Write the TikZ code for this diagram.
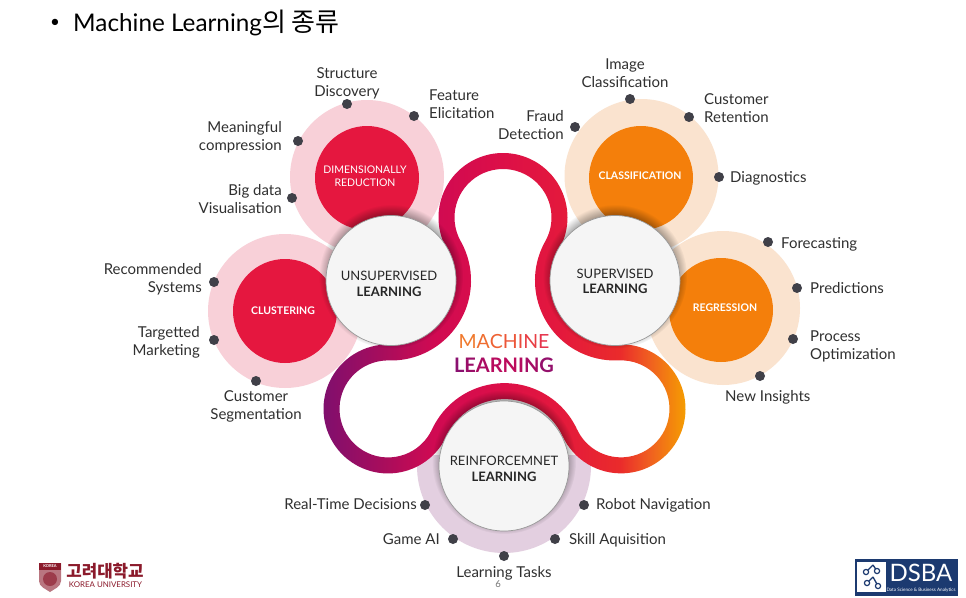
\documentclass[tikz,border=0pt]{standalone}
\usepackage{fontspec}
\setmainfont{Lato}
\newfontfamily\cjk{Noto Sans CJK KR}
\usetikzlibrary{calc,fadings}
\definecolor{ribA}{HTML}{7A0F70}
\definecolor{ribB}{HTML}{A80D5C}
\definecolor{ribC}{HTML}{D00A52}
\definecolor{ribD}{HTML}{DC0F48}
\definecolor{ribE}{HTML}{E3183D}
\definecolor{ribF}{HTML}{EA2B2B}
\definecolor{ribG}{HTML}{F06020}
\definecolor{ribH}{HTML}{F5A000}
\definecolor{redA}{HTML}{E5173F}
\definecolor{redB}{HTML}{F8D0D8}
\definecolor{orgA}{HTML}{F47F0B}
\definecolor{orgB}{HTML}{FAE3CF}
\definecolor{lilac}{HTML}{E3CFE0}
\definecolor{dotc}{HTML}{404048}
\definecolor{txtc}{HTML}{303030}
\definecolor{kured}{HTML}{8B1A2B}
\definecolor{navy}{HTML}{1C3A70}
\pgfdeclarehorizontalshading{ribbonshade}{100bp}{color(0bp)=(ribA); color(25bp)=(ribA); color(34.2bp)=(ribB); color(41bp)=(ribC); color(50bp)=(ribD); color(57.6bp)=(ribE); color(66bp)=(ribF); color(70bp)=(ribG); color(75bp)=(ribH); color(100bp)=(ribH)}
\pgfdeclareradialshading{haloshade}{\pgfpointorigin}{color(0bp)=(pgftransparent!45); color(19bp)=(pgftransparent!45); color(25bp)=(pgftransparent!100); color(50bp)=(pgftransparent!100)}
\pgfdeclarefading{halo}{\pgfuseshading{haloshade}}
\tikzset{disc/.style={circle,inner sep=0pt,minimum size=104pt},
  ring/.style={circle,inner sep=0pt,minimum size=154pt},
  hub/.style={circle,draw=black!40,line width=0.7pt,fill=black!4,inner sep=0pt,minimum size=130pt},
  spot/.style={circle,fill=dotc,inner sep=0pt,minimum size=10pt},
  lbl/.style={inner sep=0pt,text=txtc,font=\fontsize{15}{18}\selectfont},
  disctext/.style={inner sep=0pt,align=center,text=white,font=\fontsize{10.5}{13}\selectfont},
  hubtext/.style={inner sep=0pt,align=center,text=black!85,font=\fontsize{13}{15.5}\selectfont}}
% one edge of the ribbon, #1 = offset from the middle line
\newcommand{\ribbonedge}[1]{
  ($(T)+(150.64:56.5+#1)$) arc[start angle=150.64,end angle=389.36,radius=56.5+#1]
  arc[start angle=209.36,end angle=87.32,radius=72-#1]
  arc[start angle=-92.68,end angle=155.01,radius=56.5+#1]
  arc[start angle=-24.99,end angle=-155.05,radius=72-#1]
  arc[start angle=24.95,end angle=271.34,radius=56.5+#1]
  arc[start angle=91.34,end angle=-29.36,radius=72-#1] -- cycle}
\newcommand{\tc}[2]{\textcolor[HTML]{#1}{#2}}
\begin{document}
\begin{tikzpicture}[x=1pt,y=-1pt]
\useasboundingbox (0,0) rectangle (966,597);
\fill[white] (0,0) rectangle (966,597);
\coordinate (T) at (503,217.5); \coordinate (U) at (391,280.5); \coordinate (S) at (615,280.5);
\coordinate (R) at (504,466);
% title
\node[inner sep=0pt,font=\fontsize{17}{20}\selectfont] (bullet) at (55,23){•};
\node[anchor=west,inner sep=0pt,font=\fontsize{24.3}{30}\selectfont] (title) at (73,23){Machine Learning{\cjk\fontsize{26}{30}\selectfont 의 종류}};
% rings and discs
\begin{scope}
\clip (400,455) rectangle (610,560);
\fill[lilac] (R) circle (87);
\end{scope}
\node[ring,fill=redB] (dimring) at (367,177){};
\node[ring,fill=redB] (cluring) at (285,311){};
\node[ring,fill=orgB] (claring) at (641.5,176){};
\node[ring,fill=orgB] (regring) at (723,308){};
\node[disc,fill=redA] (dim) at (367,178){};
\node[disc,fill=redA] (clu) at (285,311){};
\node[disc,fill=orgA] (cla) at (641,178){};
\node[disc,fill=orgA] (reg) at (721,310){};
\node[disctext] (dimtext) at (365,176){DIMENSIONALLY\\REDUCTION};
\node[disctext,font=\fontsize{10.5}{13}\selectfont\bfseries] (clutext) at (283,311){CLUSTERING};
\node[disctext,font=\fontsize{10.5}{13}\selectfont\bfseries] (clatext) at (640,176){CLASSIFICATION};
\node[disctext,font=\fontsize{10.5}{13}\selectfont\bfseries] (regtext) at (725,308){REGRESSION};
% ribbon
\shade[even odd rule,shading=ribbonshade] \ribbonedge{8} \ribbonedge{-8};
\fill[black,path fading=halo] ($(U)+(0,-4)$) circle (72);
\fill[black,path fading=halo] ($(S)+(0,-4)$) circle (72);
\fill[black,path fading=halo] ($(R)+(0,-4)$) circle (72);
\node[hub] (unsup) at (U){};
\node[hub] (sup) at (S){};
\node[hub] (rein) at (R){};
\node[hubtext] (unsuptext) at (389,284){UNSUPERVISED\\\textbf{LEARNING}};
\node[hubtext] (suptext) at (615,281.5){SUPERVISED\\\textbf{LEARNING}};
\node[hubtext] (reintext) at (504,469){REINFORCEMNET\\\textbf{LEARNING}};
\node[inner sep=0pt,font=\fontsize{19.5}{24}\selectfont] (mach) at (504,342){\tc{F07A2E}{M}\tc{EF6E30}{A}\tc{EE6234}{C}\tc{EC5638}{H}\tc{EA4A3E}{I}\tc{E83E44}{N}\tc{E6344C}{E}};
\node[inner sep=0pt,font=\fontsize{20}{24}\selectfont\bfseries] (lear) at (504,365){\tc{8A1070}{L}\tc{9A0E68}{E}\tc{AA0C62}{A}\tc{B80B5E}{R}\tc{BC0B5C}{N}\tc{B40C60}{I}\tc{A40E66}{N}\tc{94106C}{G}};
% dots
\foreach \name/\px/\py in {a/347/104,b/414/116,c/298/141,d/292/198,e/214/282,f/214/340,g/256/381,
  h/630/99,i/575/127,j/689/117,k/719/177,l/768/242,m/797/288,n/793/339,o/760/376,
  p/425/505,q/453/539,r/504/556,s/584/505,t/555/539}{
  \node[spot] (dot\name) at (\px,\py){};}
% labels
\node[lbl,align=center] (l1) at (347,83){Structure\\Discovery};
\node[lbl,anchor=west,align=left] (l2) at (429,104){Feature\\Elicitation};
\node[lbl,anchor=east,align=right] (l3) at (282,137){Meaningful\\compression};
\node[lbl,anchor=east,align=right] (l4) at (282,199.5){Big data\\Visualisation};
\node[lbl,anchor=east,align=right] (l5) at (202,279.5){Recommended\\Systems};
\node[lbl,anchor=east,align=right] (l6) at (200,342.5){Targetted\\Marketing};
\node[lbl,align=center] (l7) at (256,406.5){Customer\\Segmentation};
\node[lbl,align=center] (l8) at (625,73.5){Image\\Classification};
\node[lbl,anchor=east,align=right] (l9) at (564,125.5){Fraud\\Detection};
\node[lbl,anchor=west,align=left] (l10) at (704,108.5){Customer\\Retention};
\node[lbl,anchor=west] (l11) at (730,178){Diagnostics};
\node[lbl,anchor=west] (l12) at (781,244.5){Forecasting};
\node[lbl,anchor=west] (l13) at (810,288){Predictions};
\node[lbl,anchor=west,align=left] (l14) at (810,346.5){Process\\Optimization};
\node[lbl,anchor=west] (l15) at (725,397.5){New Insights};
\node[lbl,anchor=east] (l16) at (417,504.5){Real-Time Decisions};
\node[lbl,anchor=east] (l17) at (440,539){Game AI};
\node[lbl] (l18) at (504,573){Learning Tasks};
\node[lbl,anchor=west] (l19) at (596,505){Robot Navigation};
\node[lbl,anchor=west] (l20) at (569,540){Skill Aquisition};
\node[inner sep=0pt,text=black!55,font=\fontsize{9.5}{11}\selectfont] (page) at (498,584){6};
% korea university logo
\fill[kured!60] (39,563) -- (61,563) -- (61,581) .. controls (61,587) and (54,589) .. (50,592) .. controls (46,589) and (39,587) .. (39,581) -- cycle;
\fill[kured] (39,563) rectangle (61,570);
\fill[kured!85] (50,579) circle (7);
\node[inner sep=0pt,text=white,font=\fontsize{4}{4}\selectfont\bfseries] (crest) at (50,566.5){KOREA};
\node[inner sep=0pt,text=kured,font=\cjk\fontsize{16.8}{18}\selectfont\bfseries] (kuname) at (105,571){고려대학교};
\node[inner sep=0pt,text=kured,font=\fontsize{7.9}{9}\selectfont] (kueng) at (105.5,585){KOREA UNIVERSITY};
% dsba logo
\fill[navy] (855,559) rectangle (958,596);
\fill[white] (857,562) rectangle (886,592);
\draw[navy,line width=1.3pt] (866,572) -- (873,565) (877,571) -- (873,565);
\draw[navy,line width=1.3pt] (867,583) -- (873,577) (873,577) -- (878,586);
\foreach \cx/\cy in {866/572,877/571,867/583,878/586}{
  \draw[navy,line width=1.2pt,fill=white] (\cx,\cy) circle (2.6);}
\node[inner sep=0pt,text=white,font=\fontsize{24}{26}\selectfont] (dsba) at (921,573){DSBA};
\node[inner sep=0pt,text=white,font=\fontsize{4.6}{5}\selectfont] (dsbasub) at (921,590){Data Science \& Business Analytics};
\end{tikzpicture}
\end{document}
